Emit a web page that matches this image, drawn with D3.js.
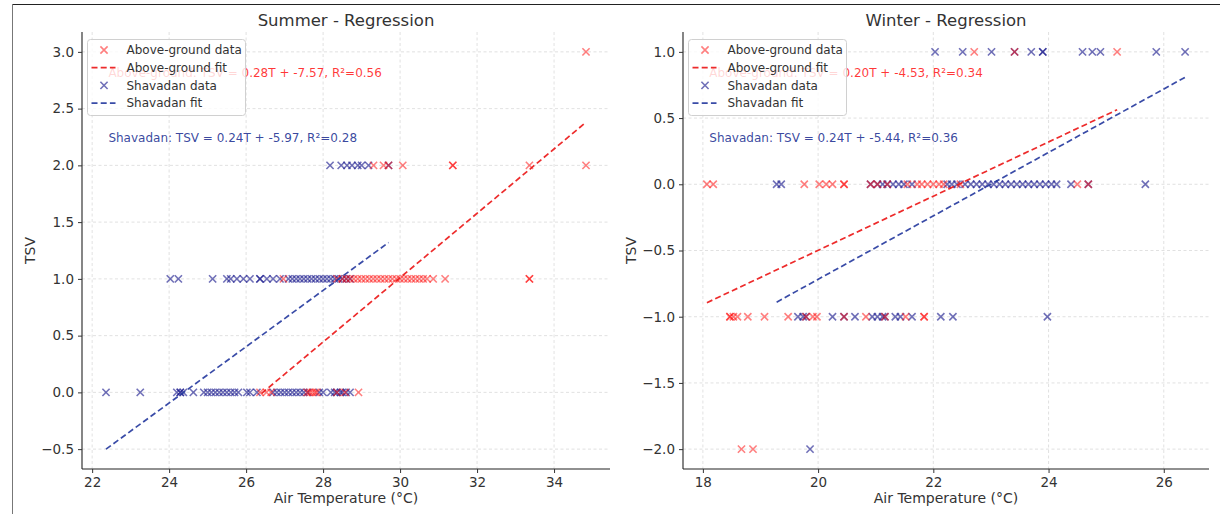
<!DOCTYPE html>
<html><head><meta charset="utf-8">
<script src="https://cdn.jsdelivr.net/npm/d3@7"></script>
<style>body{margin:0;background:#fff}svg{display:block;font-family:"DejaVu Sans",sans-serif}</style>
</head><body><svg id="c" width="1220" height="514"></svg>
<script>
// ---------------- DATA ----------------
const seriesNames = ["Above-ground", "Shavadan"];
const legendLabels = ["Above-ground data", "Above-ground fit", "Shavadan data", "Shavadan fit"];
const panelTitles = ["Summer - Regression", "Winter - Regression"];
const xLabel = "Air Temperature (°C)";
const yLabel = "TSV";

const summerXTicks = [22, 24, 26, 28, 30, 32, 34];
const summerYTicks = [-0.5, 0, 0.5, 1, 1.5, 2, 2.5, 3];
const winterXTicks = [18, 20, 22, 24, 26];
const winterYTicks = [-2, -1.5, -1, -0.5, 0, 0.5, 1];

// Summer: temperatures grouped by TSV row
const summerTsvRows = [3, 2, 1, 0];
const summerAboveTemps = [
  [34.83],
  [29.31, 29.57, 29.7, 30.07, 31.37, 31.37, 33.36, 34.83],
  [26.97, 28.36, 28.5, 28.6, 28.7, 28.8, 28.9, 29.0, 29.1, 29.2, 29.3, 29.4, 29.5, 29.6, 29.7,
   29.8, 29.9, 30.0, 30.1, 30.2, 30.3, 30.4, 30.5, 30.6, 30.7, 30.86, 31.17, 33.36, 33.36],
  [26.36, 26.53, 26.65, 27.58, 27.65, 27.72, 27.79, 27.84, 28.36, 28.57, 28.92]
];
const summerShavadanTemps = [
  [],
  [28.18, 28.47, 28.62, 28.75, 28.9, 29.0, 29.18, 29.7],
  [24.03, 24.24, 25.13, 25.5, 25.6, 25.76, 25.93, 26.1, 26.36, 26.36, 26.54, 26.7, 26.88, 27.1,
   27.2, 27.3, 27.4, 27.5, 27.6, 27.7, 27.8, 27.9, 28.0, 28.1, 28.2, 28.3, 28.4, 28.5, 28.6, 28.7],
  [22.36, 23.25, 24.2, 24.29, 24.29, 24.37, 24.63, 24.9, 25.0, 25.1, 25.2, 25.3, 25.4, 25.5, 25.6,
   25.7, 25.8, 26.02, 26.1, 26.28, 26.7, 26.8, 26.9, 27.0, 27.1, 27.2, 27.3, 27.4, 27.5, 27.6,
   27.9, 28.0, 28.2, 28.3, 28.36, 28.45, 28.5, 28.6, 28.7]
];
const summerAboveFit = [[26.4, -0.01], [34.83, 2.38]];
const summerShavadanFit = [[22.36, -0.5], [29.7, 1.32]];
const summerAnnotations = ["Above-ground: TSV = 0.28T + -7.57, R²=0.56", "Shavadan: TSV = 0.24T + -5.97, R²=0.28"];

// Winter
const winterTsvRows = [1, 0, -1, -2];
const winterAboveTemps = [
  [22.71, 23.41, 25.19],
  [18.07, 18.18, 19.76, 20.02, 20.14, 20.25, 20.45, 20.45, 20.91, 21.03, 21.2, 21.55, 21.72, 21.8,
   21.9, 22.0, 22.1, 22.18, 22.47, 24.5, 24.69],
  [18.47, 18.47, 18.53, 18.6, 18.78, 19.07, 19.48, 19.79, 19.91, 19.98, 20.45, 20.83, 21.16, 21.52,
   21.84, 21.84],
  [18.67, 18.87]
];
const winterShavadanTemps = [
  [22.03, 22.51, 23.01, 23.41, 23.7, 23.9, 23.9, 24.59, 24.76, 24.9, 25.87, 26.37],
  [19.28, 19.36, 20.91, 21.03, 21.12, 21.2, 21.3, 21.4, 21.49, 21.63, 22.24, 22.32, 22.41, 22.55,
   22.65, 22.75, 22.85, 22.95, 23.05, 23.15, 23.25, 23.35, 23.45, 23.55, 23.65, 23.75, 23.85,
   23.95, 24.05, 24.14, 24.39, 24.69, 25.68],
  [19.65, 19.74, 19.79, 20.25, 20.45, 20.64, 20.94, 21.03, 21.12, 21.16, 21.34, 21.43, 21.63,
   22.13, 22.34, 23.98],
  [19.86]
];
const winterAboveFit = [[18.07, -0.894], [25.19, 0.563]];
const winterShavadanFit = [[19.28, -0.89], [26.37, 0.808]];
const winterAnnotations = ["Above-ground: TSV = 0.20T + -4.53, R²=0.34", "Shavadan: TSV = 0.24T + -5.44, R²=0.36"];

// ---------------- STYLE ----------------
const redPoint = "rgba(255,0,0,0.5)";
const bluePoint = "rgba(25,25,140,0.62)";
const redLine = "rgba(235,20,20,0.9)";
const blueLine = "rgba(40,60,160,0.92)";
const redText = "rgba(255,20,20,0.85)";
const blueText = "rgba(40,55,150,0.92)";

const svg = d3.select("#c");

// page frame
svg.append("line").attr("x1", 12).attr("x2", 1220).attr("y1", 4.5).attr("y2", 4.5).attr("stroke", "#222").attr("stroke-width", 1);
svg.append("line").attr("x1", 12.5).attr("x2", 12.5).attr("y1", 4).attr("y2", 514).attr("stroke", "#777").attr("stroke-width", 1);

function toPoints(rows, temps) {
  const pts = [];
  rows.forEach((r, i) => temps[i].forEach(t => pts.push([t, r])));
  return pts;
}
const fmt = v => (v < 0 ? "\u2212" : "") + Math.abs(v).toFixed(1);
const xPath = "M-3.6,-3.6L3.6,3.6M-3.6,3.6L3.6,-3.6";

function panel(cfg) {
  const { left, right, top, bottom } = cfg;
  const above = toPoints(cfg.rows, cfg.aboveTemps);
  const shav = toPoints(cfg.rows, cfg.shavTemps);
  const allX = above.concat(shav).map(d => d[0]).concat(cfg.aboveFit.map(d => d[0]), cfg.shavFit.map(d => d[0]));
  const allY = above.concat(shav).map(d => d[1]).concat(cfg.aboveFit.map(d => d[1]), cfg.shavFit.map(d => d[1]));
  const [x0, x1] = d3.extent(allX), [y0, y1] = d3.extent(allY);
  const px = (x1 - x0) * 0.05, py = (y1 - y0) * 0.05;
  const x = d3.scaleLinear().domain([x0 - px, x1 + px]).range([left, right]);
  const y = d3.scaleLinear().domain([y0 - py, y1 + py]).range([bottom, top]);
  const g = svg.append("g");

  // grid
  const grid = g.append("g").attr("stroke", "#d9d9d9").attr("stroke-width", 0.8).attr("stroke-dasharray", "3,2.5");
  cfg.xTicks.forEach(t => grid.append("line").attr("x1", x(t)).attr("x2", x(t)).attr("y1", top).attr("y2", bottom));
  cfg.yTicks.forEach(t => grid.append("line").attr("x1", left).attr("x2", right).attr("y1", y(t)).attr("y2", y(t)));

  // axes
  const xa = g.append("g").attr("transform", `translate(0,${bottom})`)
    .call(d3.axisBottom(x).tickValues(cfg.xTicks).tickFormat(d3.format("d")).tickSizeInner(4).tickSizeOuter(0).tickPadding(4));
  const ya = g.append("g").attr("transform", `translate(${left},0)`)
    .call(d3.axisLeft(y).tickValues(cfg.yTicks).tickFormat(fmt).tickSizeInner(4).tickSizeOuter(0).tickPadding(4));
  [xa, ya].forEach(a => {
    a.select(".domain").attr("stroke", "#222").attr("stroke-width", 1.1);
    a.selectAll(".tick line").attr("stroke", "#333");
    a.selectAll(".tick text").attr("fill", "#333").style("font-size", "13.5px").style("font-family", "DejaVu Sans");
  });
  xa.select(".domain").attr("d", `M${left},0H${right}`);
  ya.select(".domain").attr("d", `M0,${top}V${bottom}`);

  // points
  g.append("g").selectAll("path").data(shav).join("path")
    .attr("d", xPath).attr("transform", d => `translate(${x(d[0])},${y(d[1])})`)
    .attr("stroke", bluePoint).attr("stroke-width", 1.6).attr("fill", "none");
  g.append("g").selectAll("path").data(above).join("path")
    .attr("d", xPath).attr("transform", d => `translate(${x(d[0])},${y(d[1])})`)
    .attr("stroke", redPoint).attr("stroke-width", 1.6).attr("fill", "none");

  // fits
  const line = d3.line().x(d => x(d[0])).y(d => y(d[1]));
  g.append("path").datum(cfg.aboveFit).attr("d", line).attr("stroke", redLine).attr("stroke-width", 1.7)
    .attr("stroke-dasharray", "6,3.2").attr("fill", "none");
  g.append("path").datum(cfg.shavFit).attr("d", line).attr("stroke", blueLine).attr("stroke-width", 1.7)
    .attr("stroke-dasharray", "6,3.2").attr("fill", "none");

  // annotations
  const w = right - left, h = bottom - top;
  g.append("text").attr("x", left + 0.05 * w).attr("y", top + 0.1 * h + 1).text(cfg.notes[0])
    .attr("fill", redText).style("font-size", "12px");
  g.append("text").attr("x", left + 0.05 * w).attr("y", top + 0.25 * h + 1).text(cfg.notes[1])
    .attr("fill", blueText).style("font-size", "12px");

  // labels
  g.append("text").attr("x", (left + right) / 2).attr("y", 26).attr("text-anchor", "middle")
    .text(cfg.title).attr("fill", "#333").style("font-size", "16.5px");
  g.append("text").attr("x", (left + right) / 2).attr("y", 503).attr("text-anchor", "middle")
    .text(xLabel).attr("fill", "#333").style("font-size", "14px");
  g.append("text").attr("transform", `translate(${left - 47},${(top + bottom) / 2}) rotate(-90)`).attr("text-anchor", "middle")
    .text(yLabel).attr("fill", "#333").style("font-size", "14px");

  // legend (drawn on top, semi-transparent like the reference)
  const lg = g.append("g").attr("transform", `translate(${left + 5.5},${top + 7.5})`);
  lg.append("rect").attr("width", 158).attr("height", 76).attr("rx", 3)
    .attr("fill", "rgba(255,255,255,0.8)").attr("stroke", "#d0d0d0");
  const cols = [redPoint, redLine, bluePoint, blueLine];
  legendLabels.forEach((lab, i) => {
    const cy = 10.5 + i * 17.7;
    if (i % 2 === 0) {
      lg.append("path").attr("d", xPath).attr("transform", `translate(16.5,${cy})`)
        .attr("stroke", cols[i]).attr("stroke-width", 1.6).attr("fill", "none");
    } else {
      lg.append("line").attr("x1", 4).attr("x2", 28).attr("y1", cy).attr("y2", cy)
        .attr("stroke", cols[i]).attr("stroke-width", 1.7).attr("stroke-dasharray", "6,3.2");
    }
    lg.append("text").attr("x", 39).attr("y", cy + 4.3).text(lab).attr("fill", "#333").style("font-size", "12px");
  });
}

panel({ left: 82, right: 610, top: 32, bottom: 469, rows: summerTsvRows, aboveTemps: summerAboveTemps,
  shavTemps: summerShavadanTemps, aboveFit: summerAboveFit, shavFit: summerShavadanFit,
  xTicks: summerXTicks, yTicks: summerYTicks, notes: summerAnnotations, title: panelTitles[0] });
panel({ left: 683, right: 1209, top: 32, bottom: 469, rows: winterTsvRows, aboveTemps: winterAboveTemps,
  shavTemps: winterShavadanTemps, aboveFit: winterAboveFit, shavFit: winterShavadanFit,
  xTicks: winterXTicks, yTicks: winterYTicks, notes: winterAnnotations, title: panelTitles[1] });
</script></body></html>
